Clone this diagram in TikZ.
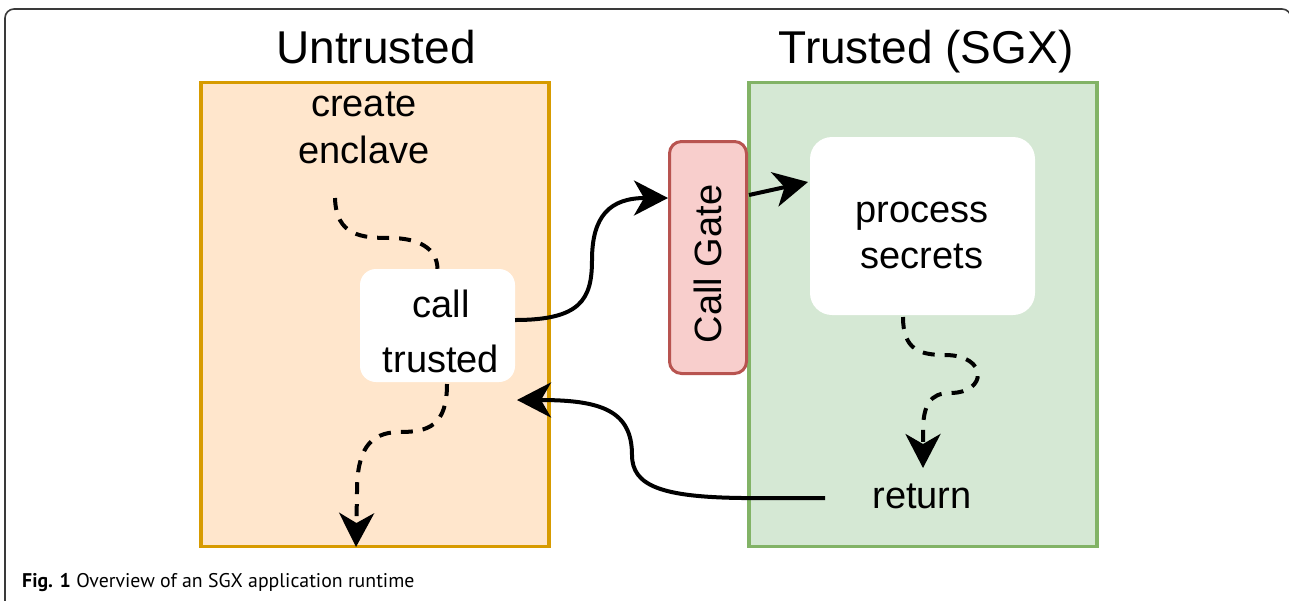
\documentclass[tikz,border=0pt]{standalone}
\usepackage{fontspec}
\setmainfont{Liberation Sans}
\newfontfamily\capfont{PT Sans}
\usetikzlibrary{arrows.meta,calc}
\definecolor{untrfill}{HTML}{FFE6CC}
\definecolor{untrline}{HTML}{D79B00}
\definecolor{trfill}{HTML}{D5E8D4}
\definecolor{trline}{HTML}{82B366}
\definecolor{gatefill}{HTML}{F8CECC}
\definecolor{gateline}{HTML}{B85450}
\definecolor{framecol}{HTML}{3A3A3A}
\begin{document}
\begin{tikzpicture}[x=1pt,y=-1pt,
  region/.style={draw, line width=3.5pt, minimum width=348pt, minimum height=464pt, inner sep=0pt},
  whitebox/.style={fill=white, inner sep=0pt},
  txt/.style={font=\fontsize{38}{47}\selectfont, align=center, inner sep=0pt},
  title/.style={font=\fontsize{46}{52}\selectfont, inner sep=0pt, anchor=base},
  tip/.style={-{Stealth[length=34pt,width=35pt,inset=10pt]}},
  conn/.style={line width=4pt, tip},
  dconn/.style={line width=4pt, dash pattern=on 12pt off 10pt}
]
\useasboundingbox (0,0) rectangle (1289,600);
% outer frame
\draw[framecol, line width=1.6pt, rounded corners=9pt] (5,610) -- (5,9) -- (1291,9) -- (1291,610);

% regions
\node[region, draw=untrline, fill=untrfill] (ut) at (375,314.5) {};
\node[region, draw=trline, fill=trfill] (tr) at (923,314.5) {};
\node[title] (utt) at (376,63) {Untrusted};
\node[title] (trt) at (926,63) {Trusted (SGX)};

% call gate
\node[draw=gateline, fill=gatefill, line width=3pt, rounded corners=12pt,
      minimum width=77pt, minimum height=232pt, inner sep=0pt] (cg) at (708,257.5) {};
\node[txt, rotate=90] (cgt) at (708,264) {Call Gate};

% boxes
\node[whitebox, rounded corners=16pt, minimum width=155pt, minimum height=113pt] (ct) at (437.5,325.5) {};
\node[txt, font=\fontsize{38}{55}\selectfont] (ctt) at (441,331) {call\\trusted};
\node[whitebox, rounded corners=22pt, minimum width=225pt, minimum height=178pt] (ps) at (922.5,226) {};
\node[txt, font=\fontsize{38}{46}\selectfont] (pst) at (922,235) {process\\secrets};
\node[txt] (ce) at (364,128) {create\\enclave};
\node[txt, anchor=base] (rt) at (922,508) {return};

% connector end points
\coordinate (d1s) at (335,198);
\coordinate (d2s) at (447,384);
\coordinate (d2e) at (356,547);
\coordinate (a3s) at (515,320);
\coordinate (a3e) at (668,198);
\coordinate (a4s) at (749,195);
\coordinate (a4e) at (808,182);
\coordinate (d5s) at (903,317);
\coordinate (d5e) at (923,468);
\coordinate (a6s) at (825,498);
\coordinate (a6e) at (517,400);

% dashed: create enclave -> call trusted
\draw[dconn] (d1s) .. controls (336,236) and (362,238) .. (390,238)
  .. controls (418,238) and (437,248) .. (ct.north);
% dashed: call trusted -> down
\draw[dconn, tip] (d2s) .. controls (447,426) and (428,432) .. (400,432)
  .. controls (368,432) and (357,452) .. (357,492) -- (d2e);
% call trusted -> call gate
\draw[conn] (a3s) .. controls (580,320) and (592,300) .. (592,260)
  .. controls (592,216) and (610,198) .. (a3e);
% call gate -> process secrets
\draw[conn] (a4s) -- (a4e);
% dashed: process secrets -> return
\draw[dconn, tip] (d5s) .. controls (903,350) and (920,355) .. (945,355)
  .. controls (988,355) and (988,393) .. (950,393)
  .. controls (930,393) and (923,405) .. (923,432) -- (d5e);
% return -> call trusted
\draw[conn] (a6s) -- (742,498) .. controls (662,497) and (632,486) .. (632,455)
  .. controls (632,410) and (600,400) .. (a6e);

% caption
\node[anchor=base west, inner sep=0pt, font=\capfont\fontsize{19.8}{24}\selectfont] (cap) at (22,587)
  {\textbf{Fig. 1} Overview of an SGX application runtime};
\end{tikzpicture}
\end{document}
